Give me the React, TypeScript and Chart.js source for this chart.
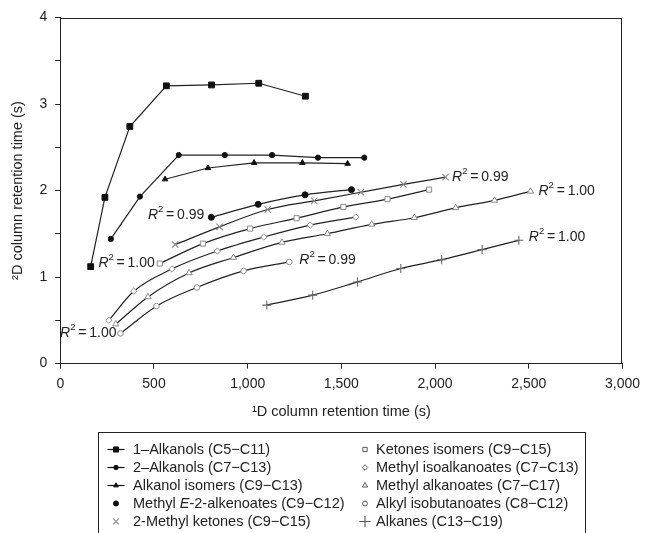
import React, { useEffect, useRef } from 'react';
import { Chart, registerables } from 'chart.js';
import { drawPoint } from 'chart.js/helpers';

Chart.register(...registerables);

const FONT = '"Liberation Sans", Arial, Helvetica, sans-serif';
const INK = '#222';
const GREY = '#8a8a8a';

// ---- Data (¹D retention time in s, ²D retention time in s) ----
const alkanols1X = [162, 238, 371, 566, 807, 1059, 1308];
const alkanols1Y = [1.12, 1.92, 2.74, 3.21, 3.22, 3.24, 3.09];

const alkanols2X = [270, 425, 632, 878, 1130, 1375, 1622];
const alkanols2Y = [1.44, 1.93, 2.41, 2.41, 2.41, 2.38, 2.38];

const alkanolIsoX = [559, 788, 1034, 1292, 1533];
const alkanolIsoY = [2.13, 2.26, 2.32, 2.32, 2.31];

const alkenoatesX = [806, 1056, 1306, 1554];
const alkenoatesY = [1.69, 1.84, 1.95, 2.01];

const methylKetX = [613, 850, 1107, 1355, 1604, 1831, 2056];
const methylKetY = [1.375, 1.58, 1.78, 1.88, 1.98, 2.07, 2.155];

const ketIsoX = [531, 761, 1013, 1261, 1511, 1746, 1968];
const ketIsoY = [1.156, 1.386, 1.56, 1.68, 1.81, 1.9, 2.01];

const isoalkX = [259, 392, 596, 838, 1086, 1334, 1577];
const isoalkY = [0.5, 0.836, 1.093, 1.3, 1.462, 1.6, 1.693];

const alkanoatesX = [296, 468, 687, 924, 1183, 1425, 1662, 1889, 2110, 2317, 2509];
const alkanoatesY = [0.456, 0.77, 1.047, 1.225, 1.4, 1.5, 1.609, 1.685, 1.8, 1.886, 1.99];

const isobutX = [321, 513, 729, 978, 1222];
const isobutY = [0.348, 0.663, 0.879, 1.07, 1.174];

const alkanesX = [1102, 1347, 1586, 1817, 2035, 2251, 2447];
const alkanesY = [0.675, 0.79, 0.943, 1.098, 1.2, 1.317, 1.424];

const seriesLabels = [
  '1–Alkanols (C5−C11)',
  '2–Alkanols (C7−C13)',
  'Alkanol isomers (C9−C13)',
  'Methyl E-2-alkenoates (C9−C12)',
  '2-Methyl ketones (C9−C15)',
  'Ketones isomers (C9−C15)',
  'Methyl isoalkanoates (C7−C13)',
  'Methyl alkanoates (C7−C17)',
  'Alkyl isobutanoates (C8−C12)',
  'Alkanes (C13−C19)',
];

const xTickValues = [0, 500, 1000, 1500, 2000, 2500, 3000];
const yTickLabels = [0, 1, 2, 3, 4];

// R² annotations: [series index, anchor end, value]
const r2Series = [3, 5, 8, 8, 4, 7, 9];
const r2Ends = ['first', 'first', 'first', 'last', 'last', 'last', 'last'];
const r2Values = ['0.99', '1.00', '1.00', '0.99', '0.99', '1.00', '1.00'];
// label offsets from anchor point (style, not data)
const r2Offsets = [
  [-7, -2], [-5, 0], [-4, 0], [10, -1.5], [6.5, 0], [8, 0], [10, -3],
];

const toPts = (xs: number[], ys: number[]) => xs.map((x, i) => ({ x, y: ys[i] }));

type Style = {
  pointStyle: string;
  radius: number;
  fill: string;
  stroke: string;
  borderWidth: number;
  smooth: boolean;
  legendLine: boolean;
};

const styles: Style[] = [
  { pointStyle: 'rect', radius: 4.1, fill: '#111', stroke: '#111', borderWidth: 1, smooth: false, legendLine: true },
  { pointStyle: 'circle', radius: 2.6, fill: '#111', stroke: '#111', borderWidth: 1, smooth: false, legendLine: true },
  { pointStyle: 'triangle', radius: 3.2, fill: '#111', stroke: '#111', borderWidth: 1, smooth: false, legendLine: true },
  { pointStyle: 'circle', radius: 3.0, fill: '#111', stroke: '#111', borderWidth: 1, smooth: true, legendLine: false },
  { pointStyle: 'crossRot', radius: 4.5, fill: '#fff', stroke: GREY, borderWidth: 1.1, smooth: true, legendLine: false },
  { pointStyle: 'rect', radius: 3.6, fill: '#fff', stroke: GREY, borderWidth: 1, smooth: true, legendLine: false },
  { pointStyle: 'rectRot', radius: 3.2, fill: '#fff', stroke: GREY, borderWidth: 1, smooth: true, legendLine: false },
  { pointStyle: 'triangle', radius: 3.6, fill: '#fff', stroke: GREY, borderWidth: 1, smooth: true, legendLine: false },
  { pointStyle: 'circle', radius: 2.8, fill: '#fff', stroke: GREY, borderWidth: 1, smooth: true, legendLine: false },
  { pointStyle: 'cross', radius: 4.5, fill: '#fff', stroke: '#666', borderWidth: 1.1, smooth: true, legendLine: false },
];

const seriesData = [
  toPts(alkanols1X, alkanols1Y),
  toPts(alkanols2X, alkanols2Y),
  toPts(alkanolIsoX, alkanolIsoY),
  toPts(alkenoatesX, alkenoatesY),
  toPts(methylKetX, methylKetY),
  toPts(ketIsoX, ketIsoY),
  toPts(isoalkX, isoalkY),
  toPts(alkanoatesX, alkanoatesY),
  toPts(isobutX, isobutY),
  toPts(alkanesX, alkanesY),
];

function drawR2(ctx: CanvasRenderingContext2D, x: number, y: number, value: string, alignRight: boolean) {
  const big = `14px ${FONT}`;
  const it = `italic 14px ${FONT}`;
  const sup = `9.5px ${FONT}`;
  const rest = `\u2009=\u2009${value}`;
  ctx.font = it;
  const wR = ctx.measureText('R').width;
  ctx.font = sup;
  const w2 = ctx.measureText('2').width;
  ctx.font = big;
  const wRest = ctx.measureText(rest).width;
  const total = wR + w2 + wRest;
  let sx = alignRight ? x - total : x;
  ctx.fillStyle = INK;
  ctx.textBaseline = 'middle';
  ctx.textAlign = 'left';
  ctx.font = it;
  ctx.fillText('R', sx, y);
  sx += wR;
  ctx.font = sup;
  ctx.fillText('2', sx, y - 6);
  sx += w2;
  ctx.font = big;
  ctx.fillText(rest, sx, y);
}

const overlayPlugin = {
  id: 'overlay',
  afterDraw(chart: any) {
    const { ctx, chartArea: a } = chart;
    ctx.save();
    // frame
    ctx.strokeStyle = INK;
    ctx.lineWidth = 1;
    ctx.strokeRect(Math.round(a.left) + 0.5, Math.round(a.top) + 0.5, Math.round(a.right - a.left) - 1, Math.round(a.bottom - a.top) - 1);

    // R² labels anchored to series end points
    const xs = chart.scales.x;
    const ys = chart.scales.y;
    r2Series.forEach((si, k) => {
      const pts = seriesData[si];
      const p = r2Ends[k] === 'first' ? pts[0] : pts[pts.length - 1];
      const px = xs.getPixelForValue(p.x) + r2Offsets[k][0];
      const py = ys.getPixelForValue(p.y) + r2Offsets[k][1];
      drawR2(ctx, px, py, r2Values[k], r2Ends[k] === 'first');
    });

    // legend box
    const boxL = 98.5, boxT = 432.5, boxR = 585.5;
    ctx.strokeStyle = INK;
    ctx.lineWidth = 1;
    ctx.strokeRect(boxL, boxT, boxR - boxL, 140);
    const rowY0 = 449.5, rowH = 18;
    const cols = [{ mx: 116, tx: 133 }, { mx: 365, tx: 376 }];
    seriesLabels.forEach((label, i) => {
      const col = cols[i < 5 ? 0 : 1];
      const y = rowY0 + (i % 5) * rowH;
      const st = styles[i];
      if (st.legendLine) {
        ctx.strokeStyle = '#111';
        ctx.lineWidth = 1.2;
        ctx.beginPath();
        ctx.moveTo(col.mx - 8.5, y);
        ctx.lineTo(col.mx + 8.5, y);
        ctx.stroke();
      }
      ctx.fillStyle = st.fill;
      ctx.strokeStyle = i >= 5 ? '#555' : st.stroke;
      ctx.lineWidth = st.borderWidth;
      const r = i === 0 ? 3.6 : i === 9 ? 5.5 : i === 4 ? 4 : st.radius * 0.85;
      drawPoint(ctx, { pointStyle: st.pointStyle as any, radius: r, rotation: 0, borderWidth: st.borderWidth }, col.mx, y);

      ctx.fillStyle = INK;
      ctx.textBaseline = 'middle';
      ctx.textAlign = 'left';
      const normal = `14.5px ${FONT}`;
      const italic = `italic 14.5px ${FONT}`;
      const idx = label.indexOf('E-2');
      if (idx >= 0) {
        let tx = col.tx;
        const a1 = label.slice(0, idx);
        const a3 = label.slice(idx + 1);
        ctx.font = normal;
        ctx.fillText(a1, tx, y);
        tx += ctx.measureText(a1).width;
        ctx.font = italic;
        ctx.fillText('E', tx, y);
        tx += ctx.measureText('E').width;
        ctx.font = normal;
        ctx.fillText(a3, tx, y);
      } else {
        ctx.font = normal;
        ctx.fillText(label, col.tx, y);
      }
    });
    ctx.restore();
  },
};

export default function App() {
  const ref = useRef<HTMLCanvasElement | null>(null);

  useEffect(() => {
    if (!ref.current) return;
    const datasets = seriesData.map((data, i) => {
      const st = styles[i];
      return {
        label: seriesLabels[i],
        data,
        showLine: true,
        borderColor: '#222',
        borderWidth: 1.2,
        tension: 0,
        cubicInterpolationMode: st.smooth ? 'monotone' : 'default',
        pointStyle: st.pointStyle,
        pointRadius: st.radius,
        pointBackgroundColor: st.fill,
        pointBorderColor: st.stroke,
        pointBorderWidth: st.borderWidth,
        fill: false,
      };
    });

    const chart = new Chart(ref.current, {
      type: 'line',
      data: { datasets } as any,
      plugins: [overlayPlugin],
      options: {
        responsive: false,
        animation: false,
        events: [],
        layout: { padding: { top: 17.5, right: 24, left: 0, bottom: 0 } },
        plugins: { legend: { display: false }, tooltip: { enabled: false } },
        scales: {
          x: {
            type: 'linear',
            min: 0,
            max: 3000,
            afterFit: (s: any) => { s.height = 533 - 363.5; },
            afterBuildTicks: (s: any) => { s.ticks = xTickValues.map((v) => ({ value: v })); },
            ticks: {
              font: { family: FONT, size: 14 },
              color: INK,
              padding: 7,
              maxRotation: 0,
              callback: (v: any) => Number(v).toLocaleString('en-US'),
            },
            grid: { display: true, drawOnChartArea: false, drawTicks: true, tickLength: 5, color: INK },
            border: { display: true, color: INK, width: 1 },
            title: {
              display: true,
              text: '¹D column retention time (s)',
              font: { family: FONT, size: 14.5 },
              color: INK,
              padding: { top: 4, bottom: 112.6 },
            },
          },
          y: {
            type: 'linear',
            min: 0,
            max: 4,
            afterFit: (s: any) => { s.width = 60.3; },
            ticks: {
              stepSize: 0.5,
              font: { family: FONT, size: 14 },
              color: INK,
              padding: 8,
              callback: (v: any) => (yTickLabels.includes(Number(v)) ? String(v) : ''),
            },
            grid: { display: true, drawOnChartArea: false, drawTicks: true, tickLength: 5, color: INK },
            border: { display: true, color: INK, width: 1 },
            title: {
              display: true,
              text: '²D column retention time (s)',
              font: { family: FONT, size: 14.5 },
              color: INK,
              padding: { top: 8.8, bottom: 0 },
            },
          },
        },
      } as any,
    });
    return () => chart.destroy();
  }, []);

  return (
    <div style={{ position: 'absolute', left: 0, top: 0, width: 647, height: 533, background: '#fff' }}>
      <canvas ref={ref} width={647} height={533} style={{ display: 'block' }} />
    </div>
  );
}
